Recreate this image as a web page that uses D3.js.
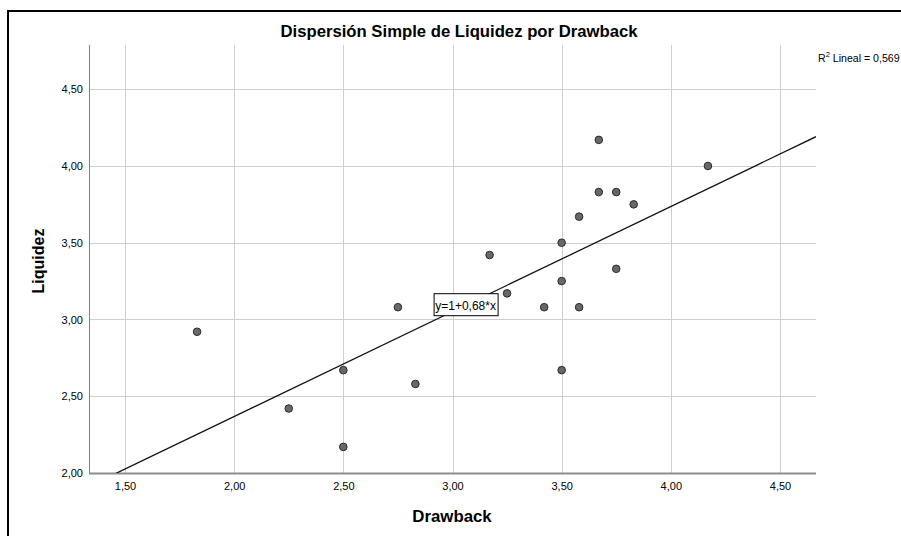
<!DOCTYPE html>
<html>
<head>
<meta charset="utf-8">
<script src="https://cdn.jsdelivr.net/npm/d3@7"></script>
<style>
  html, body { margin: 0; padding: 0; background: #fff; }
  svg { display: block; }
  text { font-family: "Liberation Sans", Arial, sans-serif; fill: #000; }
</style>
</head>
<body>
<svg id="chart" width="901" height="536"></svg>
<script>
// Drawback (x) and Liquidez (y) per case
const drawback = [1.83, 2.25, 2.50, 2.50, 2.75, 2.83, 3.17, 3.25, 3.42, 3.50,
                  3.50, 3.50, 3.58, 3.58, 3.67, 3.67, 3.75, 3.75, 3.83, 4.17];
const liquidez = [2.92, 2.42, 2.67, 2.17, 3.08, 2.58, 3.42, 3.17, 3.08, 3.50,
                  3.25, 2.67, 3.67, 3.08, 4.17, 3.83, 3.83, 3.33, 3.75, 4.00];

const xTicks = [1.5, 2.0, 2.5, 3.0, 3.5, 4.0, 4.5];
const yTicks = [2.0, 2.5, 3.0, 3.5, 4.0, 4.5];

// linear fit y = a + b*x and its R²
const fitIntercept = 1.0;
const fitSlope = 0.684;
const rSquared = 0.569;
const fitLabelX = 3.06;   // where the equation box sits on the line

const titleText = "Dispersión Simple de Liquidez por Drawback";
const xTitle = "Drawback";
const yTitle = "Liquidez";

const svg = d3.select("#chart");
const plot = { left: 89, right: 816, top: 45, bottom: 473 };

const x = d3.scaleLinear().domain([1.335, 4.665]).range([plot.left, plot.right]);
const y = d3.scaleLinear().domain([2.0, 4.788]).range([plot.bottom, plot.top]);

const fmt = v => d3.format(".2f")(v).replace(".", ",");

// outer frame (open at right and bottom)
svg.append("path")
  .attr("d", `M8,536 L8,11 L901,11`)
  .attr("fill", "none").attr("stroke", "#000").attr("stroke-width", 2);

// title
svg.append("text")
  .attr("x", 459).attr("y", 37)
  .attr("text-anchor", "middle")
  .attr("font-size", 16.7).attr("font-weight", "bold")
  .text(titleText);

// grid
const grid = svg.append("g");
grid.selectAll("line.vx").data(xTicks).join("line")
  .attr("x1", d => Math.round(x(d)) + 0.5).attr("x2", d => Math.round(x(d)) + 0.5)
  .attr("y1", plot.top).attr("y2", plot.bottom)
  .attr("stroke", "#cfcfcf").attr("stroke-width", 1);
grid.selectAll("line.hy").data(yTicks.filter(d => d > 2)).join("line")
  .attr("x1", plot.left).attr("x2", plot.right)
  .attr("y1", d => Math.round(y(d)) + 0.5).attr("y2", d => Math.round(y(d)) + 0.5)
  .attr("stroke", "#cfcfcf").attr("stroke-width", 1);

// axes
const xAxis = svg.append("g")
  .attr("transform", `translate(0,${plot.bottom})`)
  .call(d3.axisBottom(x).tickValues(xTicks).tickFormat(fmt).tickSize(0).tickPadding(9));
xAxis.select(".domain").attr("stroke", "#8c8c8c").attr("stroke-width", 2)
  .attr("d", `M${plot.left},0.5H${plot.right}`);
xAxis.selectAll("text").attr("font-size", 11).attr("font-family", "Liberation Sans, Arial, sans-serif").attr("fill", "#000");

const yAxis = svg.append("g")
  .attr("transform", `translate(${plot.left},0)`)
  .call(d3.axisLeft(y).tickValues(yTicks).tickFormat(fmt).tickSize(0).tickPadding(6));
yAxis.select(".domain").attr("stroke", "#808080").attr("stroke-width", 1)
  .attr("d", `M0.5,${plot.top}V${plot.bottom}`);
yAxis.selectAll("text").attr("font-size", 11).attr("font-family", "Liberation Sans, Arial, sans-serif").attr("fill", "#000");

// axis titles
svg.append("text")
  .attr("x", 452).attr("y", 522)
  .attr("text-anchor", "middle")
  .attr("font-size", 16.8).attr("font-weight", "bold")
  .text(xTitle);
svg.append("text")
  .attr("transform", `translate(44,${(plot.top + plot.bottom) / 2 + 2}) rotate(-90)`)
  .attr("text-anchor", "middle")
  .attr("font-size", 16).attr("font-weight", "bold")
  .text(yTitle);

// fit line, clipped to the plot area
svg.append("clipPath").attr("id", "plotClip")
  .append("rect")
  .attr("x", plot.left).attr("y", plot.top)
  .attr("width", plot.right - plot.left).attr("height", plot.bottom - plot.top);

const fit = v => fitIntercept + fitSlope * v;
const [x0, x1] = x.domain();
svg.append("line")
  .attr("clip-path", "url(#plotClip)")
  .attr("x1", x(x0)).attr("y1", y(fit(x0)))
  .attr("x2", x(x1)).attr("y2", y(fit(x1)))
  .attr("stroke", "#111").attr("stroke-width", 1.3);

// points
const pts = drawback.map((d, i) => ({ x: d, y: liquidez[i] }));
svg.append("g").selectAll("circle").data(pts).join("circle")
  .attr("cx", d => x(d.x)).attr("cy", d => y(d.y))
  .attr("r", 3.8)
  .attr("fill", "#686868").attr("stroke", "#2b2b2b").attr("stroke-width", 1);

// equation box on the line
const eqText = `y=${d3.format("d")(fitIntercept)}+${d3.format(".2f")(fitSlope).replace(".", ",")}*x`;
const eqG = svg.append("g")
  .attr("transform", `translate(${x(fitLabelX)},${y(fit(fitLabelX))})`);
const eqLabel = eqG.append("text")
  .attr("x", 0).attr("y", 4.5)
  .attr("text-anchor", "middle")
  .attr("font-size", 12)
  .text(eqText);
const bb = eqLabel.node().getBBox();
eqG.insert("rect", "text")
  .attr("x", Math.round(bb.x - 2) + 0.5).attr("y", -11.5)
  .attr("width", Math.round(bb.width + 3)).attr("height", 22)
  .attr("fill", "#fff").attr("stroke", "#000").attr("stroke-width", 1);

// R² annotation
const r2 = svg.append("text")
  .attr("x", 818).attr("y", 62)
  .attr("font-size", 10.6);
r2.append("tspan").text("R");
r2.append("tspan").attr("dy", -5).attr("font-size", 7.5).text("2");
r2.append("tspan").attr("dy", 5).text(` Lineal = ${d3.format(".3f")(rSquared).replace(".", ",")}`);
</script>
</body>
</html>
